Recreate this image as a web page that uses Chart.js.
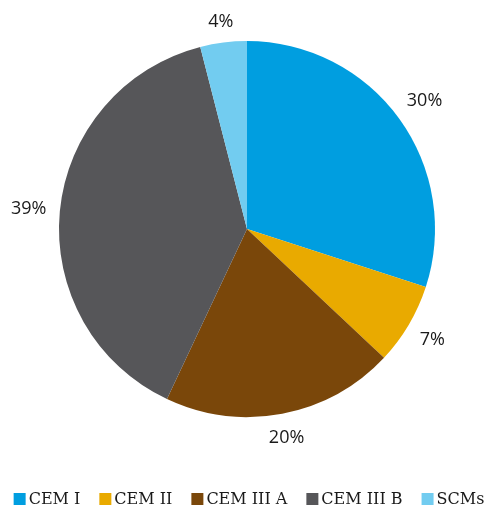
<!DOCTYPE html>
<html>
<head>
<meta charset="utf-8">
<script src="https://cdn.jsdelivr.net/npm/chart.js@4"></script>
<style>
    html, body { margin: 0; padding: 0; background: #fff; }
    #wrap { width: 487px; height: 506px; }
</style>
</head>
<body>
<div id="wrap"><canvas id="chart" width="487" height="506"></canvas></div>
<script>
const categories = ["CEM I", "CEM II", "CEM III A", "CEM III B", "SCMs"]
const shares = [30, 7, 20, 39, 4]
const sliceColors = ["#009EE0", "#E9AA00", "#7A470A", "#565659", "#72CCF0"]

// percentage labels sitting just outside each slice
const outsideLabels = {
    id: "outsideLabels",
    afterDatasetsDraw(chart) {
        const ctx = chart.ctx
        const meta = chart.getDatasetMeta(0)
        ctx.save()
        ctx.font = "18px 'Open Sans'"
        ctx.fillStyle = "#1a1a1a"
        ctx.textAlign = "center"
        ctx.textBaseline = "middle"
        meta.data.forEach((arc, i) => {
            const mid = (arc.startAngle + arc.endAngle) / 2
            const ux = Math.cos(mid)
            const uy = Math.sin(mid)
            const text = shares[i] + "%"
            const halfW = ctx.measureText(text).width / 2
            const halfH = 7
            const r = arc.outerRadius + 13 + Math.abs(ux) * halfW + Math.abs(uy) * halfH
            ctx.fillText(text, arc.x + ux * r, arc.y + uy * r + 1)
        })
        ctx.restore()
    }
}

// single-row legend with tight box/text spacing
const rowLegend = {
    id: "rowLegend",
    afterDraw(chart) {
        const ctx = chart.ctx
        const box = 12
        const gap = 3
        const spacing = 19
        ctx.save()
        ctx.font = "16px 'DejaVu Serif'"
        ctx.textBaseline = "middle"
        ctx.textAlign = "left"
        const widths = categories.map(c => ctx.measureText(c).width)
        let total = widths.reduce((a, b) => a + b, 0) + categories.length * (box + gap) + (categories.length - 1) * spacing
        let x = 249 - total / 2
        const y = 499
        categories.forEach((c, i) => {
            ctx.fillStyle = sliceColors[i]
            ctx.fillRect(x, y - box / 2, box, box)
            x += box + gap
            ctx.fillStyle = "#1a1a1a"
            ctx.fillText(c, x, y + 1)
            x += widths[i] + spacing
        })
        ctx.restore()
    }
}

const chartOptions = {
    type: "pie",
    data: {
        labels: categories,
        datasets: [{
            data: shares,
            backgroundColor: sliceColors,
            borderWidth: 0
        }]
    },
    options: {
        responsive: false,
        animation: false,
        layout: {
            padding: { top: 41, left: 7, right: 0, bottom: 89 }
        },
        plugins: {
            tooltip: { enabled: false },
            legend: { display: false }
        }
    },
    plugins: [outsideLabels, rowLegend]
}

new Chart(document.getElementById("chart"), chartOptions)
</script>
</body>
</html>
